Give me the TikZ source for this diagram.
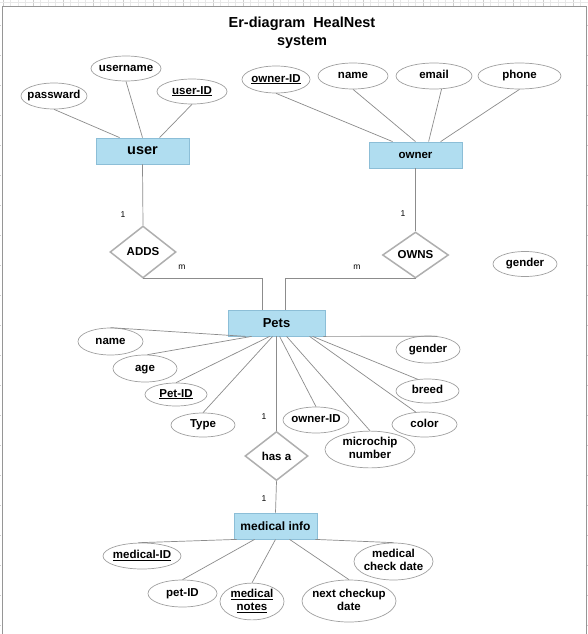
\documentclass[tikz,border=0pt]{standalone}
\usepackage{fontspec}
\setmainfont{Liberation Sans}
\usetikzlibrary{shapes.geometric,calc}
\definecolor{entfill}{RGB}{176,221,240}
\definecolor{entdraw}{RGB}{140,190,215}
\definecolor{elldraw}{RGB}{160,160,160}
\definecolor{linec}{RGB}{140,140,140}
\definecolor{diadraw}{RGB}{175,175,175}
\definecolor{framec}{RGB}{150,150,150}
\definecolor{gridc}{RGB}{232,232,232}
\definecolor{gridd}{RGB}{205,205,205}
\newcommand{\ztext}[1]{\makebox[0pt][c]{\begin{tabular}{@{}c@{}}#1\end{tabular}}}
\begin{document}
\begin{tikzpicture}[x=1pt,y=-1pt,
 entity/.style={draw=entdraw, fill=entfill, line width=0.8pt, minimum width=93pt, minimum height=26pt, inner sep=0pt, font=\fontsize{13}{15}\selectfont\bfseries},
 attr/.style={draw=elldraw, ellipse, line width=0.7pt, inner sep=0pt, font=\fontsize{11.5}{13}\selectfont\bfseries},
 rel/.style={draw=diadraw, diamond, line width=1.5pt, aspect=1.4, inner sep=0pt, font=\fontsize{11.5}{13}\selectfont\bfseries},
 conn/.style={draw=linec, line width=0.7pt},
 card/.style={font=\fontsize{8.5}{10}\selectfont, inner sep=0pt},
]
\useasboundingbox (0,0) rectangle (588,634);
\fill[white] (0,0) rectangle (588,634);
% grid strip and frame
\foreach \k in {0,...,78} {\draw[gridc, line width=0.4pt] ({3+7.5*\k},0) -- ({3+7.5*\k},7);}
\foreach \k in {0,...,19} {\draw[gridd, line width=0.5pt] ({3+30*\k},0) -- ({3+30*\k},7);}
\draw[gridc, line width=0.4pt] (0,2) -- (588,2);
\foreach \k in {0,...,20} {
  \draw[gridd, line width=0.8pt] (0,{25+30*\k}) -- (1.2,{25+30*\k});
  \draw[gridd, line width=0.8pt] (587,{25+30*\k}) -- (588,{25+30*\k});
}
\draw[framec, line width=1pt] (2,634) -- (2,7) -- (586,7) -- (586,634);

% title
\node[align=center, font=\fontsize{14.5}{18}\selectfont\bfseries] (title) at (302,33) {Er-diagram~~HealNest\\system};

% user
\node[entity, font=\fontsize{14.5}{16}\selectfont\bfseries] (user) at (142.5,151) {user};
\node[attr, minimum width=66pt, minimum height=26pt] (passward) at (54,96) {\ztext{passward}};
\node[attr, minimum width=70pt, minimum height=25pt] (username) at (126,68.5) {\ztext{username}};
\node[attr, minimum width=70pt, minimum height=25pt] (userid) at (192,91.5) {\ztext{\underline{user-ID}}};
\draw[conn] (passward.south) -- ($(user.north west)+(24,0)$);
\draw[conn] (username.south) -- (user.north);
\draw[conn] (userid.south) -- ($(user.north west)+(64,0)$);

% owner
\node[entity, font=\fontsize{11.5}{13}\selectfont\bfseries] (owner) at (415.5,155) {owner};
\node[attr, minimum width=68pt, minimum height=27pt] (ownerid) at (276,79.5) {\ztext{\underline{owner-ID}}};
\node[attr, minimum width=70pt, minimum height=26pt] (oname) at (353,76) {\ztext{name}};
\node[attr, minimum width=76pt, minimum height=26pt] (email) at (434,76) {\ztext{email}};
\node[attr, minimum width=83pt, minimum height=26pt] (phone) at (519.5,76) {\ztext{phone}};
\draw[conn] (ownerid.south) -- ($(owner.north west)+(24,0)$);
\draw[conn] (oname.south) -- (owner.north);
\draw[conn] (email.-60) -- ($(owner.north west)+(60,0)$);
\draw[conn] (phone.south) -- ($(owner.north west)+(72,0)$);

% relationships
\node[rel, minimum width=66pt, minimum height=52pt] (adds) at (143,252) {ADDS};
\node[rel, minimum width=66pt, minimum height=46pt] (owns) at (415.5,255) {OWNS};
\node[entity, font=\fontsize{13}{15}\selectfont\bfseries, minimum width=97pt] (pets) at (276.5,323) {Pets};
\draw[conn] (user.south) -- (adds.north);
\draw[conn] (owner.south) -- (owns.north);
\draw[conn] (adds.south) -| ($(pets.north west)+(35,0)$);
\draw[conn] (owns.south) -| ($(pets.north west)+(58,0)$);
\node[card] (c1) at (123,215) {1};
\node[card] (c2) at (403,214) {1};
\node[card] (c3) at (182,267) {m};
\node[card] (c4) at (357,267) {m};

\node[attr, minimum width=64pt, minimum height=25pt] (gfloat) at (525,264) {\ztext{gender}};

% pets attributes
\node[attr, minimum width=65pt, minimum height=27pt] (pname) at (110.5,341.5) {\ztext{name}};
\node[attr, minimum width=64pt, minimum height=27pt] (age) at (145,368.5) {\ztext{age}};
\node[attr, minimum width=62pt, minimum height=23pt] (petid) at (176,394.5) {\ztext{\underline{Pet-ID}}};
\node[attr, minimum width=64pt, minimum height=24pt] (type) at (203,425) {\ztext{Type}};
\node[attr, minimum width=66pt, minimum height=26pt] (powner) at (316,420) {\ztext{owner-ID}};
\node[attr, minimum width=90pt, minimum height=35pt] (micro) at (370,449.5) {\ztext{microchip\\number}};
\node[attr, minimum width=65pt, minimum height=25pt] (color) at (424.5,424.5) {\ztext{color}};
\node[attr, minimum width=63pt, minimum height=24pt] (breed) at (427.5,391) {\ztext{breed}};
\node[attr, minimum width=64pt, minimum height=27pt] (pgender) at (428,349.5) {\ztext{gender}};
\node[rel, minimum width=63pt, minimum height=49pt] (hasa) at (276.5,456) {has a};

\draw[conn] (pname.north) -- ($(pets.south west)+(18,0)$);
\draw[conn] (age.80) -- ($(pets.south west)+(24,0)$);
\draw[conn] (petid.north) -- ($(pets.south west)+(42,0)$);
\draw[conn] (type.north) -- ($(pets.south west)+(45,0)$);
\draw[conn] (pets.south) -- (hasa.north);
\draw[conn] (powner.north) -- ($(pets.south west)+(52,0)$);
\draw[conn] (micro.north) -- ($(pets.south west)+(59,0)$);
\draw[conn] (color.125) -- ($(pets.south west)+(82,0)$);
\draw[conn] (breed.130) -- ($(pets.south west)+(85,0)$);
\draw[conn] (pgender.55) -- ($(pets.south east)+(-2,0)$);
\node[card] (c5) at (264,417) {1};

% medical info
\node[entity, font=\fontsize{12}{14}\selectfont\bfseries, minimum width=83pt] (med) at (275.5,526) {medical info};
\draw[conn] (hasa.south) -- (med.north);
\node[card] (c6) at (264,499) {1};
\node[attr, minimum width=78pt, minimum height=26pt] (medid) at (142,556) {\ztext{\underline{medical-ID}}};
\node[attr, minimum width=69pt, minimum height=27pt] (mpetid) at (182.5,593.5) {\ztext{pet-ID}};
\node[attr, minimum width=64pt, minimum height=33pt] (notes) at (252,601.5) {\ztext{\underline{medical}\\\underline{notes}}};
\node[attr, minimum width=94pt, minimum height=42pt] (nextc) at (349,601) {\ztext{next checkup\\date}};
\node[attr, minimum width=79pt, minimum height=37pt] (mcd) at (393.5,561.5) {\ztext{medical\\check date}};
\draw[conn] (medid.105) -- ($(med.south west)+(3,0)$);
\draw[conn] (mpetid.north) -- ($(med.south west)+(21,0)$);
\draw[conn] (notes.north) -- (med.south);
\draw[conn] (nextc.north) -- ($(med.south west)+(56,0)$);
\draw[conn] (mcd.north) -- ($(med.south east)+(-2,0)$);
\end{tikzpicture}
\end{document}
